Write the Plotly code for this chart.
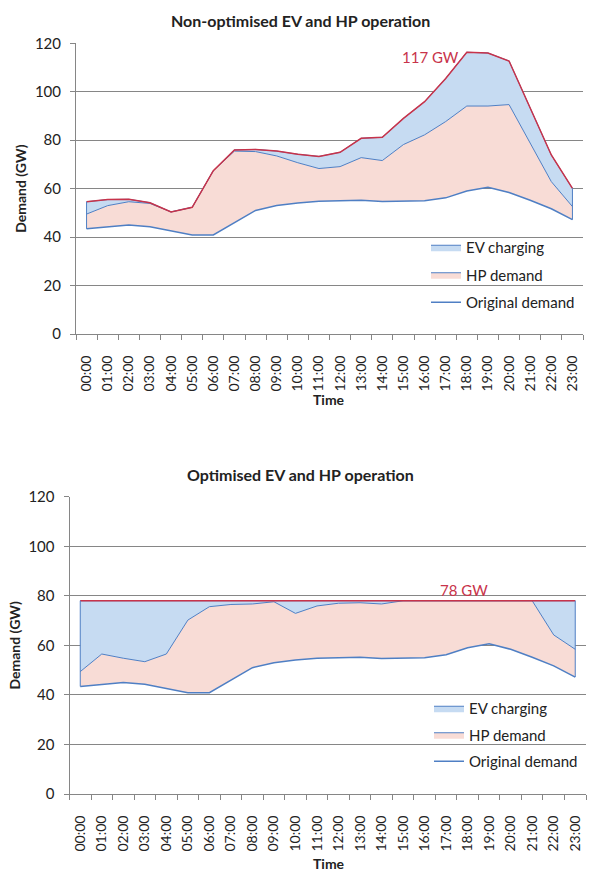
import plotly.graph_objects as go

hours = [f"{h:02d}:00" for h in range(24)]

# Original demand (GW)
original_demand = [43.4, 44.3, 45.0, 44.3, 42.7, 40.9, 40.9, 45.8, 51.0, 53.0, 54.1, 54.8,
                   55.1, 55.2, 54.7, 54.9, 55.0, 56.2, 59.0, 60.6, 58.4, 55.2, 51.7, 47.2]

# Non-optimised: cumulative levels
nonopt_hp_level = [49.5, 53.0, 54.6, 53.9, 50.4, 52.3, 67.4, 75.5, 75.3, 73.5, 70.7, 68.3,
                   69.1, 72.8, 71.6, 78.2, 82.2, 87.7, 94.1, 94.1, 94.7, 78.7, 62.9, 52.6]
nonopt_total = [54.6, 55.5, 55.6, 54.2, 50.4, 52.3, 67.4, 76.0, 76.2, 75.5, 74.2, 73.3,
                75.0, 80.8, 81.2, 89.0, 95.9, 105.5, 116.3, 116.0, 112.7, 93.2, 73.9, 60.1]

# Optimised: cumulative levels
opt_hp_level = [49.4, 56.5, 54.8, 53.4, 56.5, 70.2, 75.6, 76.5, 76.7, 77.6, 72.9, 75.9,
                77.0, 77.2, 76.7, 78.0, 78.0, 78.0, 78.0, 78.0, 78.0, 78.0, 64.2, 58.4]
opt_total = [78.0] * 24

titles = ["Non-optimised EV and HP operation", "Optimised EV and HP operation"]
peak_labels = ["117 GW", "78 GW"]
legend_names = ["EV charging", "HP demand", "Original demand"]

FONT = "Lato, 'Open Sans', sans-serif"
EV_FILL = "#c6dbf2"
HP_FILL = "#f8dcd6"
BLUE = "#4f7fc4"
RED = "#c8334a"
TXT = "#222222"

fig = go.Figure()

panels = [
    (original_demand, nonopt_hp_level, nonopt_total, "x", "y", "legend"),
    (original_demand, opt_hp_level, opt_total, "x2", "y2", "legend2"),
]

for orig, hp, tot, xa, ya, lg in panels:
    fig.add_trace(go.Scatter(x=hours, y=orig, mode="lines", showlegend=False,
                             line=dict(color=BLUE, width=1.5), xaxis=xa, yaxis=ya))
    fig.add_trace(go.Scatter(x=hours, y=hp, mode="lines", fill="tonexty", showlegend=False,
                             fillcolor=HP_FILL, line=dict(color=BLUE, width=1),
                             xaxis=xa, yaxis=ya))
    fig.add_trace(go.Scatter(x=hours, y=tot, mode="lines", fill="tonexty", showlegend=False,
                             fillcolor=EV_FILL, line=dict(color=BLUE, width=1),
                             xaxis=xa, yaxis=ya))
    fig.add_trace(go.Scatter(x=hours, y=tot, mode="lines", showlegend=False,
                             line=dict(color=RED, width=1.5), xaxis=xa, yaxis=ya,
                             hoverinfo="skip"))
    # vertical outline at both ends of the areas
    fig.add_trace(go.Scatter(x=[hours[0], hours[0]], y=[orig[0], tot[0]], mode="lines",
                             showlegend=False, line=dict(color=BLUE, width=1),
                             xaxis=xa, yaxis=ya, hoverinfo="skip"))
    fig.add_trace(go.Scatter(x=[hours[-1], hours[-1]], y=[orig[-1], tot[-1]], mode="lines",
                             showlegend=False, line=dict(color=BLUE, width=1),
                             xaxis=xa, yaxis=ya, hoverinfo="skip"))
    # legend entries
    fig.add_trace(go.Scatter(x=[None], y=[None], mode="lines", fill="toself", name=legend_names[0],
                             fillcolor=EV_FILL, line=dict(color=BLUE, width=1), xaxis=xa, yaxis=ya,
                             legend=lg, legendgroup="a", legendrank=1))
    fig.add_trace(go.Scatter(x=[None], y=[None], mode="lines", fill="toself", name=legend_names[1],
                             fillcolor=HP_FILL, line=dict(color=BLUE, width=1), xaxis=xa, yaxis=ya,
                             legend=lg, legendgroup="b", legendrank=2))
    fig.add_trace(go.Scatter(x=[None], y=[None], mode="lines", name=legend_names[2],
                             line=dict(color=BLUE, width=1.5), xaxis=xa, yaxis=ya,
                             legend=lg, legendgroup="c", legendrank=3))

W, H = 594, 875


def px_x(p):
    return p / W


def px_y(p):
    return 1 - p / H


axis_common = dict(showline=True, linecolor="#868686", linewidth=1, ticks="outside",
                   tickcolor="#868686", ticklen=5, automargin=False,
                   tickfont=dict(size=15, color=TXT, family=FONT))

xcommon = dict(axis_common, type="category", tickson="boundaries", tickangle=-90,
               range=[-0.5, len(hours) - 0.5], showgrid=False, ticklabelstandoff=15,
               tickfont=dict(size=14, color=TXT, family=FONT))
ycommon = dict(axis_common, range=[0, 120], dtick=20, showgrid=True, gridcolor="#868686",
               gridwidth=1, zeroline=False, ticklabelstandoff=6,
               title=dict(text="<b>Demand (GW)</b>", font=dict(size=14, color=TXT, family=FONT),
                          standoff=4))

fig.update_layout(
    width=W, height=H,
    margin=dict(l=0, r=0, t=0, b=0),
    paper_bgcolor="white", plot_bgcolor="white",
    font=dict(family=FONT, color=TXT),
    xaxis=dict(xcommon, domain=[px_x(76), px_x(583)], anchor="y"),
    yaxis=dict(ycommon, domain=[px_y(334), px_y(43.3)], anchor="x"),
    xaxis2=dict(xcommon, domain=[px_x(69.5), px_x(586)], anchor="y2"),
    yaxis2=dict(ycommon, domain=[px_y(794), px_y(496.7)], anchor="x2"),
    legend=dict(x=px_x(426), y=px_y(231), xanchor="left", yanchor="top",
                bgcolor="rgba(0,0,0,0)", font=dict(size=15, color=TXT, family=FONT),
                tracegroupgap=5, itemwidth=30),
    legend2=dict(x=px_x(429), y=px_y(692), xanchor="left", yanchor="top",
                 bgcolor="rgba(0,0,0,0)", font=dict(size=15, color=TXT, family=FONT),
                 tracegroupgap=4, itemwidth=30),
    annotations=[
        dict(text=f"<b>{titles[0]}</b>", x=px_x(300), y=px_y(20), xref="paper", yref="paper",
             xanchor="center", yanchor="middle", showarrow=False,
             font=dict(size=16, color=TXT, family=FONT)),
        dict(text=f"<b>{titles[1]}</b>", x=px_x(300), y=px_y(475), xref="paper", yref="paper",
             xanchor="center", yanchor="middle", showarrow=False,
             font=dict(size=16, color=TXT, family=FONT)),
        dict(text="<b>Time</b>", x=px_x(329), y=px_y(400), xref="paper", yref="paper",
             xanchor="center", yanchor="middle", showarrow=False,
             font=dict(size=14, color=TXT, family=FONT)),
        dict(text="<b>Time</b>", x=px_x(329), y=px_y(863), xref="paper", yref="paper",
             xanchor="center", yanchor="middle", showarrow=False,
             font=dict(size=14, color=TXT, family=FONT)),
        dict(text=peak_labels[0], x=hours[16], y=nonopt_total[18], xref="x", yref="y",
             xshift=6, yshift=-5, showarrow=False, font=dict(size=15, color=RED, family=FONT)),
        dict(text=peak_labels[1], x=hours[18], y=opt_total[18], xref="x2", yref="y2",
             xshift=-4, yshift=11, showarrow=False, font=dict(size=15, color=RED, family=FONT)),
    ],
)

# remove the default page margin so the figure fills the window exactly
fig.write_html("out.html", config={"displayModeBar": False},
               post_script="document.body.style.margin='0';")
